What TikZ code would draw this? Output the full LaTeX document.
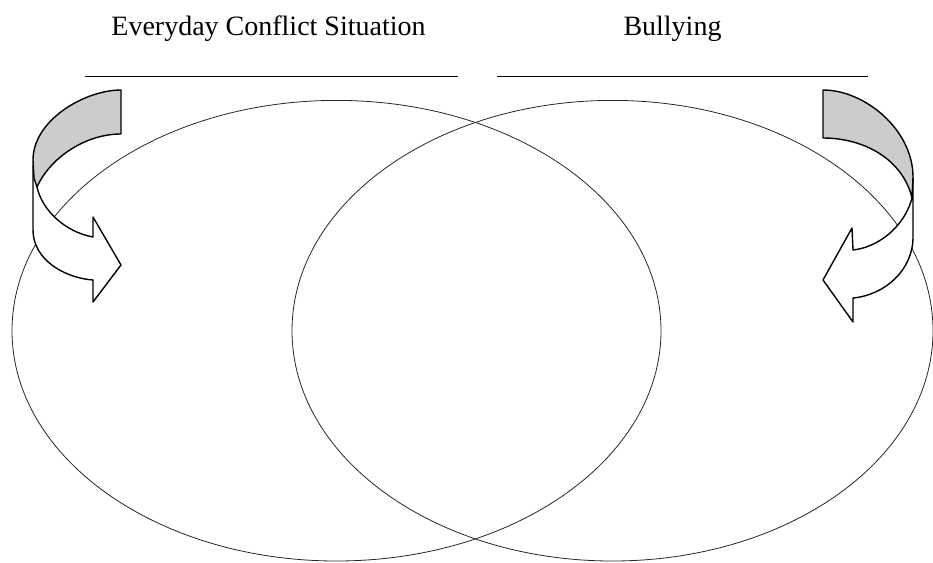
\documentclass[tikz,border=0pt]{standalone}
\usepackage{fontspec}
\setmainfont{Liberation Serif}
\definecolor{ribbongray}{RGB}{204,204,204}
\begin{document}
\begin{tikzpicture}[x=1pt,y=-1pt,
  title/.style={anchor=base,inner sep=0pt,font=\fontsize{28}{34}\selectfont},
  venn/.style={draw=black!85,line width=0.8pt},
  rule/.style={draw=black,line width=1pt},
  ribbon/.style={draw=black,line width=1.4pt,line join=round}]
\useasboundingbox (0,0) rectangle (933,562);
% titles
\node[title] (t1) at (268.5,35) {Everyday Conflict Situation};
\node[title] (t2) at (672.5,35) {Bullying};
% rules
\coordinate (l1a) at (85,76.5);
\coordinate (l1b) at (458,76.5);
\coordinate (l2a) at (497,76.5);
\coordinate (l2b) at (868,76.5);
\draw[rule] (l1a) -- (l1b);
\draw[rule] (l2a) -- (l2b);
% ellipses
\draw[venn] (336.5,330.7) ellipse [x radius=324.5pt, y radius=230.3pt];
\draw[venn] (612.5,330.7) ellipse [x radius=320.5pt, y radius=230.3pt];
% left curved arrow
\filldraw[ribbon,fill=white] (33,165) -- (33,230) .. controls (33,260) and (65,278) .. (93,280)
  -- (93,302) -- (121,265) -- (93,217) -- (93,237)
  .. controls (65,232) and (42,210) .. (37,187) -- cycle;
\filldraw[ribbon,fill=ribbongray] (121,90) .. controls (85,90) and (33,120) .. (33,160)
  -- (34,178) -- (37,187) .. controls (50,158) and (85,134) .. (121,134) -- cycle;
% right curved arrow
\filldraw[ribbon,fill=white] (913,177) -- (913,237) .. controls (913,270) and (885,295) .. (853,298)
  -- (853,322) -- (823,280) -- (852,228) -- (853,250)
  .. controls (880,247) and (905,225) .. (912,198) -- cycle;
\filldraw[ribbon,fill=ribbongray] (823,90) .. controls (865,90) and (913,130) .. (913,177)
  -- (912,198) .. controls (903,160) and (865,138) .. (823,138) -- cycle;
\end{tikzpicture}
\end{document}
